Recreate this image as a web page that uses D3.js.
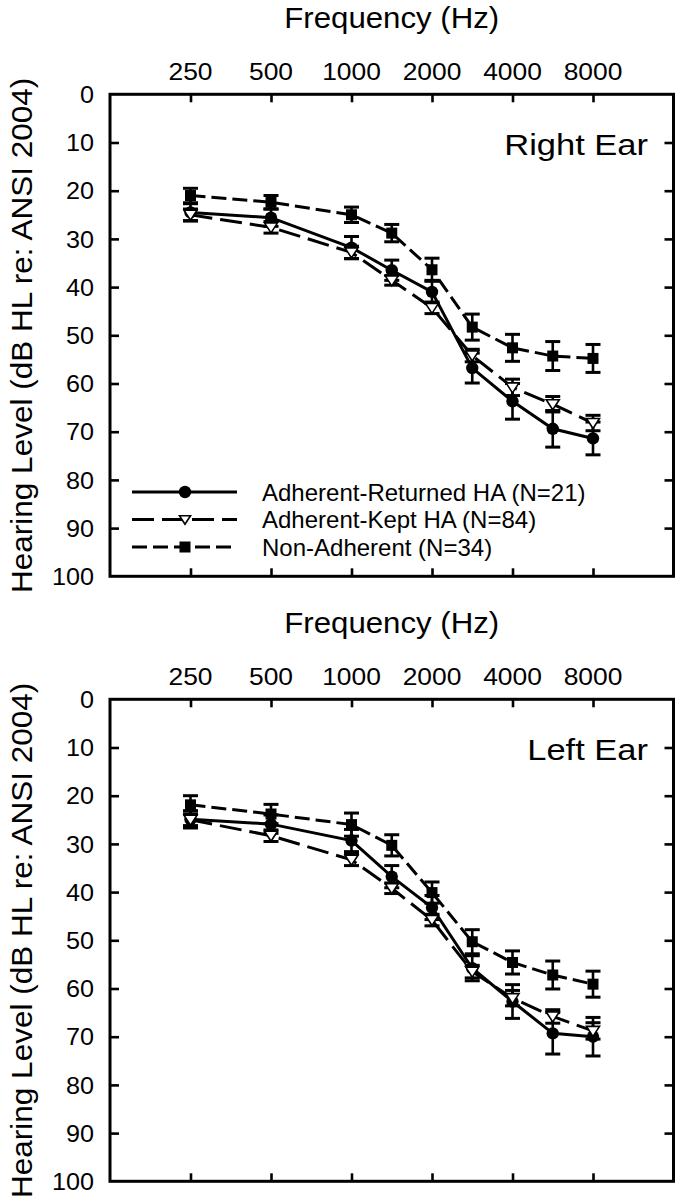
<!DOCTYPE html>
<html><head><meta charset="utf-8">
<script src="https://cdn.jsdelivr.net/npm/d3@7"></script>
<style>
html,body{margin:0;padding:0;background:#fff;}
svg{display:block;font-family:"Liberation Sans",Arial,Helvetica,sans-serif;}
</style>
</head><body>
<svg id="chart" width="680" height="1202"></svg>
<script>
// ---------- DATA ----------
const frequencies = [250, 500, 1000, 1500, 2000, 3000, 4000, 6000, 8000];
const tickFrequencies = [250, 500, 1000, 2000, 4000, 8000];
const yTickValues = [0, 10, 20, 30, 40, 50, 60, 70, 80, 90, 100];
const seriesNames = ["Adherent-Returned HA (N=21)", "Adherent-Kept HA (N=84)", "Non-Adherent (N=34)"];
const panelTitles = ["Right Ear", "Left Ear"];
const xAxisTitle = "Frequency (Hz)";
const yAxisTitle = "Hearing Level (dB HL re: ANSI 2004)";

// Right ear
const rightReturned    = [24.5, 25.6, 31.8, 36.5, 41.0, 56.8, 63.7, 69.4, 71.4];
const rightReturnedErr = [1.8, 1.8, 2.3, 2.1, 2.4, 3.1, 3.7, 3.8, 3.4];
const rightKept        = [25.0, 27.6, 32.8, 38.6, 44.3, 54.2, 60.8, 64.3, 68.2];
const rightKeptErr     = [1.2, 1.2, 1.3, 1.0, 1.2, 1.3, 1.7, 1.6, 1.6];
const rightNonAdh      = [21.0, 22.4, 25.0, 28.8, 36.4, 48.3, 52.6, 54.3, 54.8];
const rightNonAdhErr   = [1.5, 1.4, 1.6, 1.8, 2.4, 2.7, 2.8, 3.0, 2.9];

// Left ear
const leftReturned     = [24.9, 25.9, 29.3, 36.8, 43.2, 55.8, 62.7, 69.3, 70.0];
const leftReturnedErr  = [1.8, 1.9, 2.3, 2.3, 2.5, 2.6, 3.5, 4.3, 4.0];
const leftKept         = [25.0, 28.3, 33.3, 39.2, 45.8, 56.5, 62.0, 65.8, 68.8];
const leftKeptErr      = [1.2, 1.2, 1.2, 1.1, 1.2, 1.3, 1.6, 1.4, 1.7];
const leftNonAdh       = [21.9, 23.8, 26.0, 30.3, 40.1, 50.3, 54.6, 57.2, 59.1];
const leftNonAdhErr    = [1.9, 2.0, 2.4, 2.2, 2.2, 2.5, 2.4, 2.9, 2.7];

// ---------- LAYOUT ----------
const svg = d3.select("#chart");
const frameLeft = 110, frameRight = 673.5, frameH = 482;
const panelTops = [94.3, 699.3];
const styles = [
  {dash: null, marker: "circle"},
  {dash: "22,8", marker: "triangle"},
  {dash: "15,6", marker: "square"}
];

// audiogram convention: inter-octave frequencies are drawn at half-octave positions
const audioPos = f => 250 * Math.pow(2, Math.round(2 * Math.log2(f / 250)) / 2);

const x = d3.scaleLog().base(2).domain([125, 16000]).range([frameLeft, frameRight]);

function txt(g, px, py, s, size, anchor, sx) {
  return g.append("text")
    .attr("transform", `translate(${px},${py}) scale(${sx},1)`)
    .attr("text-anchor", anchor)
    .attr("font-size", size)
    .attr("fill", "#000")
    .text(s);
}

function drawMarker(g, type, cx, cy, scale) {
  scale = scale || 1;
  if (type === "circle") {
    g.append("circle").attr("cx", cx).attr("cy", cy).attr("r", 6.2 * scale).attr("fill", "#000");
  } else if (type === "square") {
    const s = 11 * scale;
    g.append("rect").attr("x", cx - s / 2).attr("y", cy - s / 2).attr("width", s).attr("height", s).attr("fill", "#000");
  } else {
    const w = 6.5 * scale, h = 10 * scale;
    g.append("path")
      .attr("d", `M${cx - w},${cy - h * 0.45} L${cx + w},${cy - h * 0.45} L${cx},${cy + h * 0.55} Z`)
      .attr("fill", "#fff").attr("stroke", "#000").attr("stroke-width", 1.6);
  }
}

function drawPanel(top, title, means, errs, withLegend) {
  const y = d3.scaleLinear().domain([0, 100]).range([top, top + frameH]);
  const g = svg.append("g");

  // x axis title and tick labels (axis on top)
  txt(g, (frameLeft + frameRight) / 2, top - 66.5, xAxisTitle, 30, "middle", 1.04);
  tickFrequencies.forEach(f => txt(g, x(f), top - 14.3, String(f), 24, "middle", 1.1));

  // y tick labels
  yTickValues.forEach(v => txt(g, 94, y(v) + 8.6, String(v), 24, "end", 1.05));

  // y axis title
  g.append("text")
    .attr("transform", `translate(32,${top + frameH / 2}) rotate(-90) scale(1.05,1)`)
    .attr("text-anchor", "middle").attr("font-size", 30).attr("fill", "#000")
    .text(yAxisTitle);

  // axes via d3 (inward ticks, labels drawn separately above)
  const tickStyle = sel => {
    sel.select(".domain").remove();
    sel.selectAll(".tick line").attr("stroke", "#000").attr("stroke-width", 2.6);
    sel.selectAll(".tick text").remove();
  };
  const inner = yTickValues.slice(1, -1);
  g.append("g").attr("transform", `translate(0,${top})`)
    .call(d3.axisBottom(x).tickValues(tickFrequencies).tickSize(8)).call(tickStyle);
  g.append("g").attr("transform", `translate(0,${top + frameH})`)
    .call(d3.axisTop(x).tickValues(tickFrequencies).tickSize(8)).call(tickStyle);
  g.append("g").attr("transform", `translate(${frameLeft},0)`)
    .call(d3.axisRight(y).tickValues(inner).tickSize(9)).call(tickStyle);
  g.append("g").attr("transform", `translate(${frameRight},0)`)
    .call(d3.axisLeft(y).tickValues(inner).tickSize(9)).call(tickStyle);

  // frame
  g.append("rect").attr("x", frameLeft).attr("y", top)
    .attr("width", frameRight - frameLeft).attr("height", frameH)
    .attr("fill", "none").attr("stroke", "#000").attr("stroke-width", 3);

  // panel title
  txt(g, 648, top + 60.7, title, 30, "end", 1.15);

  // lines
  const line = d3.line().x(d => x(audioPos(d.f))).y(d => y(d.v));
  means.forEach((m, i) => {
    const pts = frequencies.map((f, j) => ({f, v: m[j]}));
    g.append("path").datum(pts).attr("d", line)
      .attr("fill", "none").attr("stroke", "#000").attr("stroke-width", 3)
      .attr("stroke-dasharray", styles[i].dash);
  });
  // error bars
  means.forEach((m, i) => {
    frequencies.forEach((f, j) => {
      const cx = x(audioPos(f)), lo = y(m[j] - errs[i][j]), hi = y(m[j] + errs[i][j]);
      g.append("line").attr("x1", cx).attr("x2", cx).attr("y1", lo).attr("y2", hi)
        .attr("stroke", "#000").attr("stroke-width", 2.6);
      [lo, hi].forEach(yy => g.append("line").attr("x1", cx - 7.5).attr("x2", cx + 7.5)
        .attr("y1", yy).attr("y2", yy).attr("stroke", "#000").attr("stroke-width", 3));
    });
  });
  // markers
  means.forEach((m, i) => {
    frequencies.forEach((f, j) => drawMarker(g, styles[i].marker, x(audioPos(f)), y(m[j])));
  });

  if (withLegend) {
    const rows = [492, 519.5, 547];
    seriesNames.forEach((name, i) => {
      g.append("line").attr("x1", 132).attr("x2", 237).attr("y1", rows[i]).attr("y2", rows[i])
        .attr("stroke", "#000").attr("stroke-width", 3).attr("stroke-dasharray", styles[i].dash);
      drawMarker(g, styles[i].marker, 185, rows[i], i === 1 ? 0.85 : 1);
      txt(g, 262, rows[i] + 8.5, name, 24, "start", 1.0);
    });
  }
}

drawPanel(panelTops[0], panelTitles[0],
  [rightReturned, rightKept, rightNonAdh], [rightReturnedErr, rightKeptErr, rightNonAdhErr], true);
drawPanel(panelTops[1], panelTitles[1],
  [leftReturned, leftKept, leftNonAdh], [leftReturnedErr, leftKeptErr, leftNonAdhErr], false);
</script>
</body></html>
